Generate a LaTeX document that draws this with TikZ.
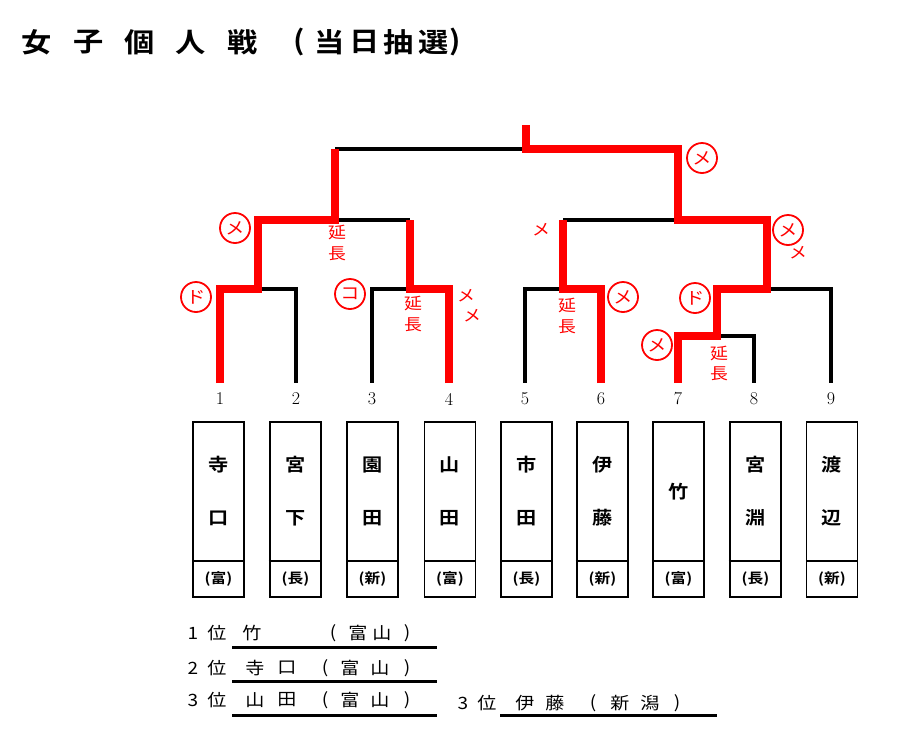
\documentclass[tikz,border=0pt]{standalone}
\usepackage{fontspec}
\newfontfamily\jp{Noto Sans CJK JP}[FakeStretch=1.12, BoldFont={Noto Sans CJK JP Bold}]
\begin{document}
\begin{tikzpicture}[x=1pt,y=-1pt,
  winline/.style={red, line width=7.5pt},
  loseline/.style={black, line width=3.2pt},
  circlab/.style={circle, draw=red, line width=1.8pt, minimum size=30pt, inner sep=0pt, text=red, font=\jp\fontsize{17}{17}\selectfont},
  redtxt/.style={text=red, inner sep=0pt, font=\jp\fontsize{16}{16}\selectfont},
  namebox/.style={draw, minimum width=51pt, minimum height=175pt, inner sep=0pt},
  boxchr/.style={inner sep=0pt, font=\jp\bfseries\fontsize{18}{18}\selectfont},
  prefchr/.style={inner sep=0pt, font=\jp\bfseries\fontsize{14}{14}\selectfont},
  numlab/.style={inner sep=0pt, font=\fontsize{18}{18}\selectfont},
  reschr/.style={inner sep=0pt, font=\jp\fontsize{17}{17}\selectfont},
  titchr/.style={inner sep=0pt, font=\jp\bfseries\fontsize{27}{27}\selectfont},
  uline/.style={black, line width=3pt}
]
\useasboundingbox (0,0) rectangle (912,737);

% title
\foreach \x/\c [count=\k] in {37/女,89/子,140/個,191/人,243/戦,299/(,330/当,365/日,399/抽,434/選,455/)}
  \node[titchr] (t\k) at (\x,42) {\c};

% bracket coordinates
\coordinate (l1) at (220,383);
\coordinate (l2) at (296,383);
\coordinate (l3) at (372,383);
\coordinate (l4) at (449,383);
\coordinate (l5) at (525,383);
\coordinate (l6) at (601,383);
\coordinate (l7) at (678,383);
\coordinate (l8) at (754,383);
\coordinate (l9) at (831,383);
\coordinate (ma) at (258,289);
\coordinate (mb) at (410,289);
\coordinate (mc) at (335,220);
\coordinate (md) at (563,289);
\coordinate (me) at (717,336);
\coordinate (mf) at (767,289);
\coordinate (mg) at (678,220);
\coordinate (mfin) at (526,149);
\coordinate (top) at (526,125);

% losing lines
\draw[loseline] (ma) -- (ma -| l2) -- (l2);
\draw[loseline] (mb) -- (mb -| l3) -- (l3);
\draw[loseline] (mc) -- (mc -| mb);
\draw[loseline] (md) -- (md -| l5) -- (l5);
\draw[loseline] (me) -- (me -| l8) -- (l8);
\draw[loseline] (mf) -- (mf -| l9) -- (l9);
\draw[loseline] (md |- mg) -- (mg);
\draw[loseline] (mc |- mfin) -- (mfin);

% winning lines
\draw[winline] (l1) |- (ma) |- (mc) -- (mc |- mfin);
\draw[winline] (l4) |- (mb) -- (mb |- mc);
\draw[winline] (l6) |- (md) -- (md |- mg);
\draw[winline] (l7) |- (me) |- (mf) |- (mg) |- (mfin) -- (top);

% annotations
\node[circlab] (c1) at (235,228) {メ};
\node[circlab] (c2) at (196,297) {ド};
\node[circlab] (c3) at (350,294) {コ};
\node[circlab] (c4) at (702,158) {メ};
\node[circlab] (c5) at (788,230) {メ};
\node[circlab] (c6) at (623,297) {メ};
\node[circlab] (c7) at (695,298) {ド};
\node[circlab] (c8) at (657,345) {メ};
\node[redtxt] (e1a) at (337,232) {延};
\node[redtxt] (e1b) at (337,254) {長};
\node[redtxt] (e2a) at (413,303) {延};
\node[redtxt] (e2b) at (413,325) {長};
\node[redtxt] (e3a) at (567,305) {延};
\node[redtxt] (e3b) at (567,327) {長};
\node[redtxt] (e4a) at (719,353) {延};
\node[redtxt] (e4b) at (719,374) {長};
\node[redtxt] (m1) at (466,296) {メ};
\node[redtxt] (m2) at (472,316) {メ};
\node[redtxt] (m3) at (541,230) {メ};
\node[redtxt] (m4) at (798,253) {メ};

% numbers
\foreach \x [count=\k] in {220,296,372,449,525,601,678,754,831}
  \node[numlab] (num\k) at (\x,399) {\k};

% name boxes
\foreach \i/\x/\lw in {1/218.5/1.5,2/295.5/2.6,3/372.5/1.5,4/450/1.5,5/526.5/1.5,6/602.5/2.6,7/678.5/1.5,8/755.5/2.6,9/832/1.5}{
  \node[namebox, line width=\lw pt] (b\i) at (\x,509.5) {};
  \draw[line width=1.3pt] (b\i.west |- 0,561) -- (b\i.east |- 0,561);
}
\foreach \i/\x/\a/\b/\p in {1/218.5/寺/口/富,2/295.5/宮/下/長,3/372.5/園/田/新,4/450/山/田/富,5/526.5/市/田/長,6/602.5/伊/藤/新,8/755.5/宮/淵/長,9/832/渡/辺/新}{
  \node[boxchr] (na\i) at (\x,465) {\a};
  \node[boxchr] (nb\i) at (\x,518) {\b};
  \node[prefchr] (p\i) at (\x,579) {(\p)};
}
\node[boxchr] (na7) at (678.5,492) {竹};
\node[prefchr] (p7) at (678.5,579) {(富)};

% results
\foreach \x/\c [count=\k] in {193/1,217/位,252/竹,333/(,358/富,382/山,407/)}
  \node[reschr] (ra\k) at (\x,633) {\c};
\foreach \x/\c [count=\k] in {193/2,217/位,255/寺,287/口,325/(,350/富,380/山,407/)}
  \node[reschr] (rb\k) at (\x,668) {\c};
\foreach \x/\c [count=\k] in {193/3,217/位,255/山,287/田,325/(,350/富,380/山,407/)}
  \node[reschr] (rc\k) at (\x,700) {\c};
\foreach \x/\c [count=\k] in {463/3,487/位,525/伊,555/藤,593/(,620/新,650/潟,677/)}
  \node[reschr] (rd\k) at (\x,703) {\c};
\draw[uline] (232,647) -- (437,647);
\draw[uline] (232,681) -- (437,681);
\draw[uline] (232,715) -- (437,715);
\draw[uline] (500,715) -- (717,715);
\end{tikzpicture}
\end{document}
